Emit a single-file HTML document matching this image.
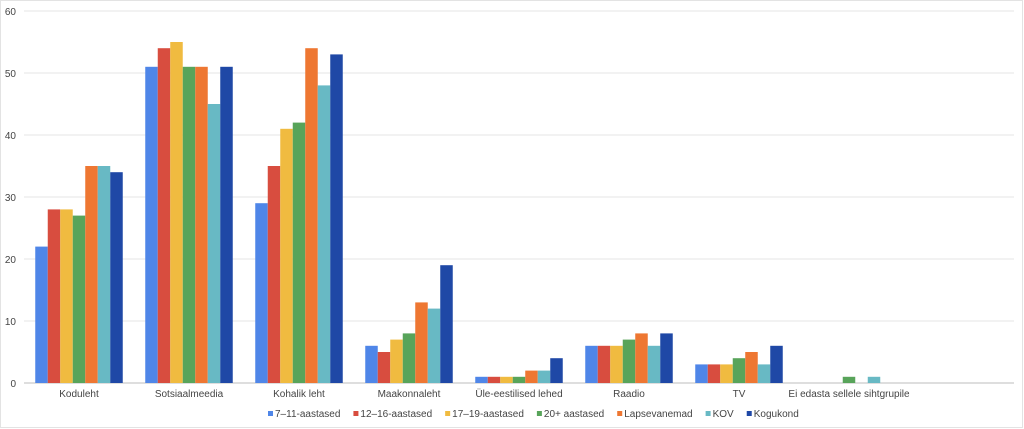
<!DOCTYPE html>
<html><head><meta charset="utf-8"><style>
body{margin:0;background:#fff;}
svg{display:block;font-family:"Liberation Sans",sans-serif;}
</style></head><body>
<svg id="chart" width="1024" height="429">
<rect x="0.5" y="0.5" width="1022" height="427" fill="#fff" stroke="#e3e3e3"/>
<g id="grid"></g><g id="bars"></g><g id="labels"></g><g id="legend"></g>
</svg>
<script>
const categories=["Koduleht","Sotsiaalmeedia","Kohalik leht","Maakonnaleht","Üle-eestilised lehed","Raadio","TV","Ei edasta sellele sihtgrupile"];
const seriesNames=["7–11-aastased","12–16-aastased","17–19-aastased","20+ aastased","Lapsevanemad","KOV","Kogukond"];
const seriesColors=["#4f86e8","#d84d3f","#f0bb40","#58a45a","#ee7732","#68b9c4","#1f48a6"];
const s1=[22,51,29,6,1,6,3,0];
const s2=[28,54,35,5,1,6,3,0];
const s3=[28,55,41,7,1,6,3,0];
const s4=[27,51,42,8,1,7,4,1];
const s5=[35,51,54,13,2,8,5,0];
const s6=[35,45,48,12,2,6,3,1];
const s7=[34,51,53,19,4,8,6,0];
const series=[s1,s2,s3,s4,s5,s6,s7];
const yTicks=[0,10,20,30,40,50,60];
const NS="http://www.w3.org/2000/svg";
const x0=24,xEnd=1014,step=110,y0=383,yTop=11,yMax=60;
const yS=v=>y0-(v/yMax)*(y0-yTop);
const bandX=i=>x0+i*step;
const bw=12.5,pad=(step-bw*7)/2;
function mk(t,a,p){const e=document.createElementNS(NS,t);for(const k in a)e.setAttribute(k,a[k]);p.appendChild(e);return e;}
const grid=document.getElementById('grid');
yTicks.forEach(t=>{
  const l=mk('line',{x1:x0,x2:xEnd,y1:yS(t),y2:yS(t),stroke:t===0?'#bdbdbd':'#e6e6e6','stroke-width':1},grid);
  
  
  const tx=mk('text',{x:16,y:yS(t)+4,'text-anchor':'end','font-size':10,fill:'#444'},grid);
  tx.textContent=t;
  
  
});
const bars=document.getElementById('bars');
series.forEach((s,si)=>{
  s.forEach((v,ci)=>{
    if(v<=0)return;
    const r=mk('rect',{x:bandX(ci)+pad+si*bw,y:yS(v),width:bw,height:y0-yS(v),fill:seriesColors[si]},bars);
    
    
  });
});
const labels=document.getElementById('labels');
categories.forEach((c,ci)=>{
  const t=mk('text',{x:bandX(ci)+step/2,y:397,'text-anchor':'middle','font-size':10,fill:'#444'},labels);
  t.textContent=c;
  
  
});
const legend=document.getElementById('legend');
let lx=268;
seriesNames.forEach((n,i)=>{
  const g=mk('g',{},legend);
  
  
  mk('rect',{x:lx,y:411,width:5,height:5,fill:seriesColors[i]},g);
  const t=mk('text',{x:lx+7,y:417,'font-size':10,fill:'#444'},g);
  t.textContent=n;
  lx+=7+t.getComputedTextLength()+13;
});
</script>
</body></html>
